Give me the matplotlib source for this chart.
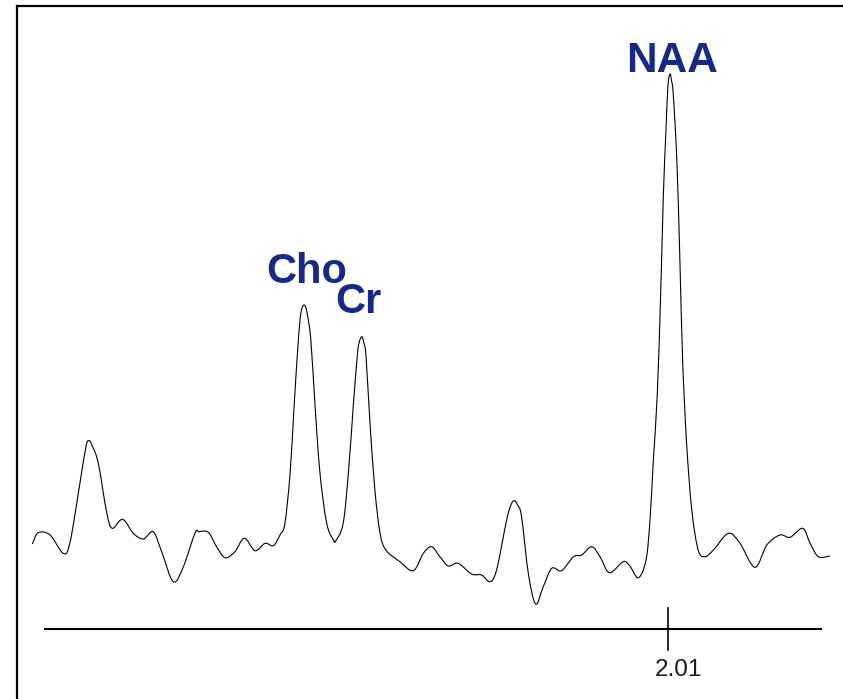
import numpy as np
import matplotlib.pyplot as plt
from matplotlib.path import Path
from matplotlib.patches import PathPatch

# spectrum: chemical shift (ppm) and signal (arb. units)
ppm = [4.094, 4.075, 4.036, 3.993, 3.971, 3.938, 3.918, 3.908, 3.899, 3.878,
       3.850, 3.832, 3.798, 3.763, 3.730, 3.698, 3.670, 3.632, 3.599, 3.561,
       3.547, 3.517, 3.490, 3.462, 3.430, 3.399, 3.364, 3.331, 3.304, 3.282,
       3.266, 3.249, 3.236, 3.222, 3.213, 3.203, 3.194, 3.181, 3.167, 3.151,
       3.129, 3.107, 3.099, 3.075, 3.058, 3.042, 3.029, 3.023, 3.014, 3.007,
       3.000, 2.987, 2.971, 2.954, 2.935, 2.889, 2.845, 2.812, 2.785, 2.758,
       2.730, 2.698, 2.654, 2.621, 2.594, 2.572, 2.539, 2.525, 2.514, 2.503,
       2.490, 2.468, 2.444, 2.419, 2.391, 2.359, 2.320, 2.293, 2.260, 2.233,
       2.202, 2.157, 2.135, 2.107, 2.082, 2.069, 2.058, 2.045, 2.034, 2.025,
       2.017, 2.010, 2.003, 1.999, 1.993, 1.981, 1.971, 1.962, 1.949, 1.932,
       1.911, 1.889, 1.861, 1.812, 1.774, 1.725, 1.686, 1.643, 1.610, 1.568,
       1.544, 1.517, 1.479]
signal = [8.5, 9.63, 9.4, 7.57, 8.6, 14.6, 18.3, 18.83, 18.4, 16.6,
          11.6, 10.07, 10.97, 9.57, 9.0, 9.73, 7.73, 4.73, 6.23, 9.57,
          9.73, 9.67, 8.23, 7.13, 7.73, 9.07, 7.83, 8.57, 8.33, 9.4,
          10.57, 15.57, 22.23, 28.9, 31.7, 32.4, 31.7, 28.9, 22.23, 15.57,
          10.57, 8.9, 8.83, 10.57, 15.57, 22.23, 27.23, 28.6, 29.23, 28.6,
          27.23, 20.57, 13.9, 9.57, 7.9, 6.73, 5.83, 7.57, 8.23, 7.23,
          6.3, 6.57, 5.5, 5.4, 4.73, 5.9, 10.9, 12.4, 12.83, 12.4,
          11.23, 5.57, 2.5, 4.23, 6.07, 5.83, 7.23, 7.4, 8.23, 7.23,
          5.63, 6.73, 6.3, 5.13, 6.9, 10.9, 16.9, 23.57, 33.57, 43.57,
          49.57, 54.4, 55.5, 54.9, 53.57, 46.9, 36.9, 26.9, 18.57, 11.9,
          7.9, 7.23, 7.9, 9.57, 8.57, 6.17, 8.4, 9.4, 9.17, 10.07,
          8.57, 7.23, 7.3]

peak_names = ['Cho', 'Cr', 'NAA']
peak_x = [3.195, 3.024, 1.998]
peak_y = [34.6, 31.6, 55.7]
peak_size = [30, 30, 30.5]

axis_range = [4.056, 1.505]
tick_ppm = 2.01
tick_label = '2.01'

label_color = '#172983'


def smooth_path(xs, ys):
    # catmull-rom through the read points, drawn as cubic bezier pieces
    p = np.column_stack([xs, ys])
    verts = [p[0]]
    codes = [Path.MOVETO]
    n = len(p)
    for i in range(n - 1):
        p0 = p[max(i - 1, 0)]
        p1 = p[i]
        p2 = p[i + 1]
        p3 = p[min(i + 2, n - 1)]
        verts += [p1 + (p2 - p0) / 6, p2 - (p3 - p1) / 6, p2]
        codes += [Path.CURVE4] * 3
    return Path(verts, codes)


fig = plt.figure(figsize=(8.43, 6.99), dpi=100)
ax = fig.add_axes([17 / 843, 0, 826 / 843, 693 / 699])

ax.add_patch(PathPatch(smooth_path(ppm, signal), facecolor='none',
                       edgecolor='black', lw=0.8))

# ppm scale under the spectrum
ax.plot(axis_range, [0, 0], color='black', lw=1.5, solid_capstyle='butt')
ax.plot([tick_ppm, tick_ppm], [-2.1, 2.1], color='black', lw=1.2)
ax.text(2.053, -4.7, tick_label, ha='left', va='baseline',
        fontsize=17.5, family='Liberation Sans', color='#1a1a1a')

for name, x, y, fs in zip(peak_names, peak_x, peak_y, peak_size):
    ax.text(x, y, name, ha='center', va='baseline', fontsize=fs,
            fontweight='bold', family='Liberation Sans', color=label_color)

ax.set_xlim(4.1444, 1.4362)
ax.set_ylim(-7.0, 62.3)
ax.set_xticks([])
ax.set_yticks([])
for side in ['right', 'bottom']:
    ax.spines[side].set_visible(False)
for side in ['left', 'top']:
    ax.spines[side].set_linewidth(1.6)

fig.savefig('out.png', dpi=100)
